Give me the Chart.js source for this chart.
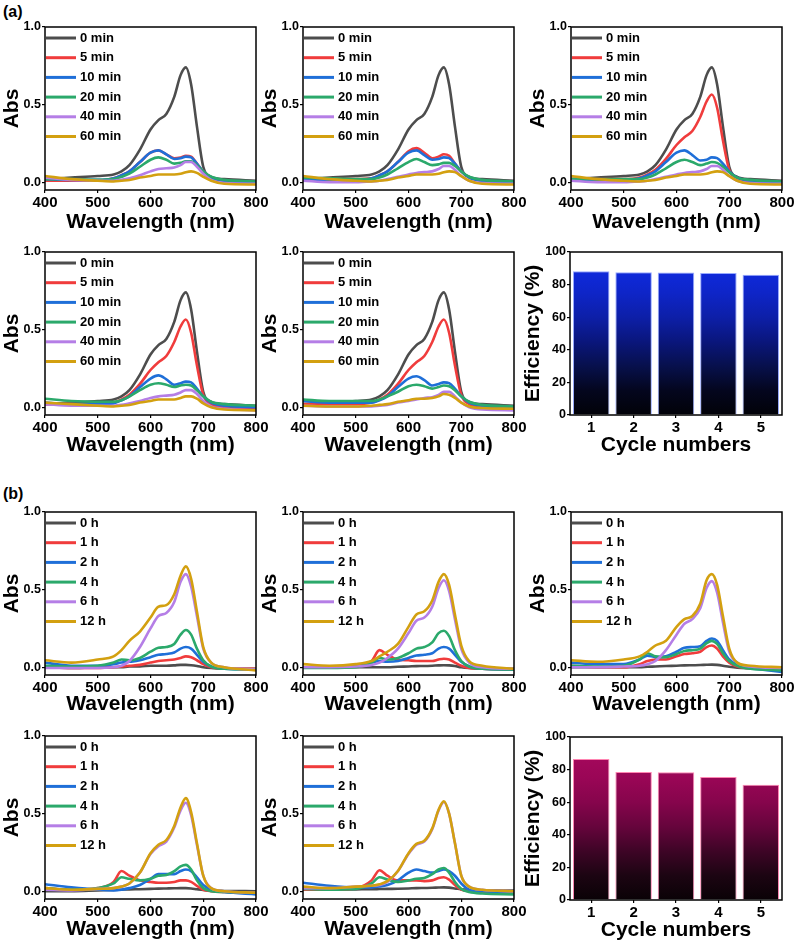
<!DOCTYPE html>
<html>
<head>
<meta charset="utf-8">
<script src="https://cdn.jsdelivr.net/npm/chart.js@4.4.1/dist/chart.umd.min.js"></script>
<style>
  body { margin: 0; background: #fff; }
  #figure { position: relative; width: 794px; height: 945px; overflow: hidden; }
  #figure canvas { position: absolute; }
  .panel-tag { position: absolute; font: bold 16px Arial, "Liberation Sans", sans-serif; line-height: 20px; }
</style>
</head>
<body>
<div id="figure">
  <div class="panel-tag" style="left:3px;top:2px">(a)</div>
  <div class="panel-tag" style="left:3px;top:484px">(b)</div>
</div>
<script>
// wavelength grid (nm) shared by every spectrum
const wavelengths = [400, 450, 500, 530, 545, 560, 580, 600, 615, 630, 645, 657, 667, 677, 688, 700, 715, 740, 800];
const minLabels = ['0 min', '5 min', '10 min', '20 min', '40 min', '60 min'];
const hourLabels = ['0 h', '1 h', '2 h', '4 h', '6 h', '12 h'];
const cycles = ['1', '2', '3', '4', '5'];
const absTicks = [0, 0.5, 1.0];

// (a) degradation spectra, 0 min is the same starting solution in each run
const a_0min   = [0.02, 0.03, 0.04, 0.05, 0.07, 0.11, 0.21, 0.34, 0.40, 0.44, 0.55, 0.69, 0.74, 0.63, 0.36, 0.10, 0.035, 0.02, 0.01];

const a1_5min  = [0.01, 0.01, 0.01, 0.025, 0.045, 0.07, 0.13, 0.19, 0.205, 0.18, 0.155, 0.16, 0.17, 0.165, 0.12, 0.07, 0.03, 0.01, 0.0];
const a1_10min = [0.02, 0.015, 0.015, 0.025, 0.045, 0.07, 0.13, 0.19, 0.205, 0.18, 0.15, 0.155, 0.165, 0.16, 0.12, 0.07, 0.03, 0.01, 0.0];
const a1_20min = [0.02, 0.02, 0.015, 0.02, 0.035, 0.055, 0.10, 0.145, 0.16, 0.145, 0.12, 0.125, 0.135, 0.135, 0.11, 0.07, 0.035, 0.015, 0.005];
const a1_40min = [0.03, 0.015, 0.01, 0.01, 0.015, 0.025, 0.045, 0.07, 0.085, 0.09, 0.095, 0.11, 0.13, 0.13, 0.10, 0.055, 0.015, -0.005, -0.01];
const a1_60min = [0.04, 0.02, 0.01, 0.005, 0.01, 0.015, 0.03, 0.04, 0.05, 0.05, 0.05, 0.055, 0.065, 0.07, 0.06, 0.035, 0.01, -0.01, -0.015];

const a2_5min  = [0.02, 0.02, 0.02, 0.025, 0.045, 0.07, 0.13, 0.20, 0.22, 0.19, 0.155, 0.165, 0.18, 0.17, 0.12, 0.07, 0.03, 0.01, 0.0];
const a2_10min = [0.02, 0.015, 0.015, 0.025, 0.045, 0.07, 0.13, 0.19, 0.205, 0.175, 0.145, 0.15, 0.16, 0.155, 0.12, 0.07, 0.03, 0.01, 0.0];
const a2_20min = [0.03, 0.025, 0.02, 0.02, 0.03, 0.05, 0.09, 0.13, 0.15, 0.13, 0.11, 0.115, 0.125, 0.125, 0.105, 0.07, 0.035, 0.015, 0.005];
const a2_40min = [0.01, 0.0, 0.0, 0.005, 0.01, 0.02, 0.035, 0.05, 0.06, 0.065, 0.07, 0.085, 0.105, 0.105, 0.08, 0.04, 0.01, -0.005, -0.01];
const a2_60min = [0.04, 0.02, 0.01, 0.005, 0.01, 0.015, 0.03, 0.04, 0.05, 0.05, 0.05, 0.055, 0.065, 0.07, 0.065, 0.04, 0.01, -0.01, -0.015];

const a3_5min  = [0.02, 0.02, 0.02, 0.03, 0.05, 0.08, 0.15, 0.24, 0.29, 0.33, 0.42, 0.52, 0.565, 0.48, 0.27, 0.08, 0.02, 0.0, -0.01];
const a3_10min = [0.02, 0.015, 0.015, 0.025, 0.045, 0.07, 0.13, 0.19, 0.205, 0.175, 0.14, 0.145, 0.16, 0.155, 0.12, 0.07, 0.03, 0.01, 0.0];
const a3_20min = [0.02, 0.02, 0.02, 0.02, 0.03, 0.05, 0.09, 0.13, 0.145, 0.13, 0.11, 0.12, 0.13, 0.125, 0.10, 0.065, 0.03, 0.015, 0.005];
const a3_40min = [0.01, 0.0, 0.0, 0.005, 0.01, 0.02, 0.035, 0.05, 0.06, 0.065, 0.07, 0.085, 0.105, 0.105, 0.08, 0.04, 0.01, -0.005, -0.01];
const a3_60min = [0.04, 0.02, 0.01, 0.005, 0.01, 0.015, 0.03, 0.04, 0.05, 0.05, 0.05, 0.055, 0.065, 0.07, 0.065, 0.04, 0.01, -0.01, -0.015];

const a4_5min  = [0.02, 0.02, 0.02, 0.03, 0.05, 0.08, 0.15, 0.24, 0.29, 0.33, 0.42, 0.52, 0.565, 0.48, 0.27, 0.08, 0.02, 0.0, -0.01];
const a4_10min = [0.03, 0.02, 0.02, 0.025, 0.045, 0.07, 0.13, 0.185, 0.205, 0.18, 0.145, 0.155, 0.165, 0.16, 0.12, 0.07, 0.03, 0.01, 0.0];
const a4_20min = [0.055, 0.04, 0.035, 0.035, 0.045, 0.07, 0.11, 0.145, 0.155, 0.145, 0.13, 0.14, 0.145, 0.14, 0.11, 0.07, 0.035, 0.02, 0.01];
const a4_40min = [0.02, 0.01, 0.01, 0.01, 0.015, 0.025, 0.04, 0.06, 0.07, 0.075, 0.08, 0.095, 0.11, 0.11, 0.085, 0.04, 0.005, -0.01, -0.02];
const a4_60min = [0.03, 0.02, 0.01, 0.005, 0.01, 0.015, 0.03, 0.04, 0.05, 0.05, 0.05, 0.06, 0.07, 0.07, 0.055, 0.025, 0.0, -0.015, -0.02];

const a5_5min  = [0.02, 0.02, 0.02, 0.03, 0.05, 0.08, 0.15, 0.24, 0.29, 0.33, 0.42, 0.52, 0.565, 0.48, 0.27, 0.08, 0.02, 0.0, -0.01];
const a5_10min = [0.04, 0.03, 0.03, 0.03, 0.045, 0.07, 0.13, 0.185, 0.20, 0.175, 0.14, 0.15, 0.16, 0.155, 0.12, 0.07, 0.03, 0.01, 0.0];
const a5_20min = [0.05, 0.04, 0.04, 0.04, 0.05, 0.07, 0.10, 0.135, 0.145, 0.135, 0.12, 0.13, 0.14, 0.135, 0.11, 0.07, 0.035, 0.015, 0.005];
const a5_40min = [0.01, 0.005, 0.005, 0.005, 0.01, 0.015, 0.03, 0.04, 0.05, 0.06, 0.065, 0.08, 0.10, 0.10, 0.07, 0.03, 0.0, -0.015, -0.02];
const a5_60min = [0.01, 0.005, 0.005, 0.01, 0.015, 0.02, 0.035, 0.045, 0.055, 0.055, 0.06, 0.07, 0.085, 0.08, 0.06, 0.03, 0.005, -0.005, -0.01];

// (b) release spectra
const b1_0h  = [0.0, -0.005, 0.0, 0.0, 0.0, 0.005, 0.005, 0.01, 0.01, 0.01, 0.012, 0.015, 0.015, 0.013, 0.008, 0.0, -0.005, -0.008, -0.01];
const b1_1h  = [0.0, -0.005, -0.005, 0.0, 0.005, 0.01, 0.015, 0.03, 0.04, 0.045, 0.05, 0.06, 0.07, 0.065, 0.045, 0.02, 0.0, -0.01, -0.01];
const b1_2h  = [0.03, 0.01, 0.01, 0.02, 0.03, 0.035, 0.045, 0.065, 0.08, 0.085, 0.095, 0.12, 0.13, 0.12, 0.08, 0.035, 0.005, -0.01, -0.015];
const b1_4h  = [0.01, 0.005, 0.01, 0.03, 0.05, 0.045, 0.06, 0.10, 0.125, 0.13, 0.15, 0.21, 0.24, 0.21, 0.12, 0.045, 0.005, -0.01, -0.015];
const b1_6h  = [-0.005, -0.005, -0.005, 0.0, 0.01, 0.04, 0.13, 0.25, 0.33, 0.35, 0.42, 0.55, 0.60, 0.52, 0.33, 0.12, 0.03, 0.0, -0.015];
const b1_12h = [0.045, 0.03, 0.05, 0.07, 0.11, 0.17, 0.23, 0.32, 0.39, 0.40, 0.47, 0.59, 0.65, 0.57, 0.36, 0.13, 0.03, 0.0, -0.02];

const b2_0h  = [0.0, 0.0, 0.0, 0.0, 0.0, 0.0, 0.003, 0.005, 0.007, 0.008, 0.01, 0.012, 0.013, 0.012, 0.008, 0.0, -0.005, -0.008, -0.01];
const b2_1h  = [0.0, 0.0, 0.01, 0.04, 0.11, 0.08, 0.05, 0.045, 0.04, 0.04, 0.04, 0.05, 0.055, 0.05, 0.03, 0.01, -0.005, -0.01, -0.015];
const b2_2h  = [0.0, 0.0, 0.01, 0.03, 0.04, 0.035, 0.04, 0.06, 0.075, 0.08, 0.09, 0.12, 0.13, 0.12, 0.08, 0.035, 0.005, -0.01, -0.015];
const b2_4h  = [-0.005, -0.005, 0.0, 0.03, 0.06, 0.05, 0.06, 0.09, 0.12, 0.13, 0.16, 0.22, 0.235, 0.20, 0.11, 0.04, 0.005, -0.01, -0.015];
const b2_6h  = [0.0, 0.0, 0.005, 0.015, 0.03, 0.06, 0.12, 0.22, 0.30, 0.32, 0.39, 0.51, 0.56, 0.49, 0.31, 0.12, 0.03, 0.0, -0.01];
const b2_12h = [0.02, 0.01, 0.02, 0.04, 0.07, 0.10, 0.15, 0.26, 0.34, 0.36, 0.43, 0.55, 0.60, 0.53, 0.34, 0.14, 0.04, 0.01, -0.01];

const b3_0h  = [0.0, 0.0, 0.0, 0.0, 0.003, 0.005, 0.008, 0.01, 0.012, 0.013, 0.014, 0.016, 0.017, 0.015, 0.01, 0.003, -0.003, -0.006, -0.01];
const b3_1h  = [0.01, 0.0, 0.0, 0.02, 0.04, 0.05, 0.05, 0.07, 0.085, 0.09, 0.10, 0.13, 0.14, 0.12, 0.07, 0.03, 0.005, -0.005, -0.01];
const b3_2h  = [0.03, 0.02, 0.02, 0.05, 0.075, 0.065, 0.07, 0.10, 0.125, 0.13, 0.135, 0.17, 0.185, 0.17, 0.11, 0.05, 0.015, -0.005, -0.03];
const b3_4h  = [0.01, 0.005, 0.01, 0.05, 0.09, 0.07, 0.065, 0.085, 0.105, 0.11, 0.12, 0.155, 0.17, 0.15, 0.09, 0.04, 0.01, -0.01, -0.02];
const b3_6h  = [0.0, 0.0, 0.005, 0.01, 0.02, 0.04, 0.11, 0.21, 0.28, 0.31, 0.38, 0.51, 0.555, 0.48, 0.29, 0.10, 0.03, 0.005, -0.005];
const b3_12h = [0.045, 0.035, 0.05, 0.07, 0.10, 0.14, 0.17, 0.26, 0.31, 0.33, 0.41, 0.56, 0.60, 0.53, 0.33, 0.12, 0.03, 0.01, 0.0];

const b4_0h  = [0.0, 0.0, 0.005, 0.008, 0.01, 0.012, 0.013, 0.015, 0.017, 0.018, 0.019, 0.02, 0.02, 0.018, 0.013, 0.008, 0.004, 0.002, 0.0];
const b4_1h  = [0.02, 0.01, 0.02, 0.06, 0.13, 0.10, 0.07, 0.06, 0.055, 0.055, 0.06, 0.07, 0.07, 0.06, 0.035, 0.01, 0.0, -0.005, -0.01];
const b4_2h  = [0.045, 0.025, 0.01, 0.005, 0.01, 0.02, 0.04, 0.08, 0.11, 0.11, 0.11, 0.13, 0.14, 0.13, 0.09, 0.04, 0.01, -0.005, -0.02];
const b4_4h  = [0.02, 0.01, 0.02, 0.05, 0.09, 0.08, 0.07, 0.08, 0.10, 0.105, 0.13, 0.16, 0.17, 0.14, 0.07, 0.02, 0.0, -0.005, -0.01];
const b4_6h  = [0.01, 0.005, 0.015, 0.02, 0.03, 0.05, 0.12, 0.24, 0.29, 0.32, 0.41, 0.52, 0.57, 0.49, 0.30, 0.10, 0.02, 0.0, -0.01];
const b4_12h = [0.02, 0.01, 0.015, 0.02, 0.03, 0.05, 0.12, 0.245, 0.30, 0.33, 0.42, 0.54, 0.60, 0.51, 0.31, 0.10, 0.02, 0.0, -0.01];

const b5_0h  = [0.01, 0.01, 0.012, 0.013, 0.014, 0.015, 0.016, 0.018, 0.02, 0.021, 0.022, 0.024, 0.025, 0.023, 0.018, 0.012, 0.008, 0.006, 0.005];
const b5_1h  = [0.01, 0.01, 0.02, 0.07, 0.135, 0.10, 0.07, 0.07, 0.07, 0.065, 0.07, 0.085, 0.09, 0.075, 0.04, 0.01, 0.0, -0.005, -0.01];
const b5_2h  = [0.055, 0.035, 0.025, 0.025, 0.03, 0.04, 0.07, 0.12, 0.14, 0.13, 0.12, 0.13, 0.14, 0.13, 0.10, 0.05, 0.01, 0.0, -0.01];
const b5_4h  = [0.015, 0.01, 0.015, 0.05, 0.09, 0.075, 0.06, 0.07, 0.08, 0.085, 0.11, 0.14, 0.15, 0.12, 0.06, 0.015, -0.005, -0.015, -0.02];
const b5_6h  = [0.02, 0.02, 0.03, 0.035, 0.04, 0.06, 0.13, 0.24, 0.30, 0.32, 0.40, 0.52, 0.575, 0.50, 0.31, 0.10, 0.03, 0.01, 0.0];
const b5_12h = [0.03, 0.02, 0.03, 0.035, 0.045, 0.065, 0.13, 0.245, 0.305, 0.325, 0.405, 0.525, 0.58, 0.50, 0.31, 0.10, 0.03, 0.01, 0.0];

// cycling efficiency (%)
const effA = [88.2, 87.6, 87.5, 87.1, 86.0];
const effB = [86.5, 78.6, 78.4, 75.5, 70.7];

const lineColors = ['#4d4d4d', '#f03c3c', '#1f6fd8', '#2ba96b', '#b57ee6', '#d3a010'];
const FONT = 'Arial, "Liberation Sans", sans-serif';

const colLeft = [45, 303, 571];
const rowTop = [27, 252, 512, 736];
const rowAxisH = [45, 43, 42, 43];
const PLOT_W = 211, PLOT_H = 163;

const framePlugin = {
  id: 'frame',
  afterDatasetsDraw(chart) {
    const { ctx, chartArea: a } = chart;
    ctx.save();
    ctx.strokeStyle = '#000';
    ctx.lineWidth = 1.5;
    ctx.strokeRect(a.left, a.top, a.right - a.left, a.bottom - a.top);
    ctx.restore();
  }
};

const insideLegend = {
  id: 'insideLegend',
  afterDraw(chart) {
    const { ctx, chartArea: a } = chart;
    ctx.save();
    ctx.font = 'bold 13px ' + FONT;
    ctx.textBaseline = 'middle';
    chart.data.datasets.forEach((ds, i) => {
      const y = a.top + 11 + i * 19.7;
      ctx.strokeStyle = ds.borderColor;
      ctx.lineWidth = 3;
      ctx.beginPath();
      ctx.moveTo(a.left + 1, y);
      ctx.lineTo(a.left + 31, y);
      ctx.stroke();
      ctx.fillStyle = '#000';
      ctx.fillText(ds.label, a.left + 35, y);
    });
    ctx.restore();
  }
};

function addCanvas(left, top, width, height) {
  const c = document.createElement('canvas');
  c.width = width;
  c.height = height;
  c.style.left = left + 'px';
  c.style.top = top + 'px';
  document.getElementById('figure').appendChild(c);
  return c;
}

const fixHeight = h => s => { s.height = h; s.paddingLeft = 0; s.paddingRight = 0; };
const fixWidth = w => s => { s.width = w; s.paddingTop = 0; s.paddingBottom = 0; };

function axisStyle(tickSize, extraTicks) {
  return {
    ticks: Object.assign({ color: '#000', font: { family: FONT, weight: 'bold', size: tickSize }, padding: 1, autoSkip: false, maxRotation: 0 }, extraTicks || {}),
    grid: { drawOnChartArea: false, tickLength: 3, color: '#000', lineWidth: 1.2 },
    border: { display: false }
  };
}

function titleOpt(text) {
  return { display: true, text: text, color: '#000', font: { family: FONT, weight: 'bold', size: 21 }, padding: 0 };
}

function spectrum(col, row, labels, series) {
  const axisH = rowAxisH[row];
  const canvas = addCanvas(colLeft[col] - 45, rowTop[row] - 8, 45 + PLOT_W + 16, 8 + PLOT_H + axisH);
  new Chart(canvas, {
    type: 'line',
    data: {
      datasets: series.map((vals, i) => ({
        label: labels[i],
        data: vals.map((v, k) => ({ x: wavelengths[k], y: v })),
        borderColor: lineColors[i],
        borderWidth: 2.6,
        pointRadius: 0,
        cubicInterpolationMode: 'monotone',
        order: -i
      }))
    },
    options: {
      responsive: false,
      animation: false,
      devicePixelRatio: 1,
      layout: { padding: { top: 8, right: 16, left: 0, bottom: 0 } },
      plugins: { legend: { display: false }, tooltip: { enabled: false } },
      scales: {
        x: Object.assign(axisStyle(15, { stepSize: 100 }), {
          type: 'linear', min: 400, max: 800,
          title: titleOpt('Wavelength (nm)'),
          afterFit: fixHeight(axisH)
        }),
        y: Object.assign(axisStyle(12.5, { callback: v => Number(v).toFixed(1) }), {
          min: -0.05, max: 1.0,
          afterBuildTicks: s => { s.ticks = absTicks.map(v => ({ value: v })); },
          title: titleOpt('Abs'),
          afterFit: fixWidth(45)
        })
      }
    },
    plugins: [framePlugin, insideLegend]
  });
}

function barGradient(stops) {
  return ctx => {
    const area = ctx.chart.chartArea;
    if (!area) return stops[stops.length - 1][1];
    const g = ctx.chart.ctx.createLinearGradient(0, area.bottom, 0, area.top);
    stops.forEach(([p, c]) => g.addColorStop(p, c));
    return g;
  };
}

function efficiency(row, values, stops, edge) {
  const axisH = rowAxisH[row];
  const top = row === 1 ? 252 : 737;
  const canvas = addCanvas(570 - 49, top - 8, 49 + 212 + 8, 8 + PLOT_H + axisH);
  const xs = axisStyle(15);
  xs.grid.offset = false;
  new Chart(canvas, {
    type: 'bar',
    data: {
      labels: cycles,
      datasets: [{
        data: values,
        backgroundColor: barGradient(stops),
        borderColor: edge,
        borderWidth: 1,
        barPercentage: 0.86,
        categoryPercentage: 1.0
      }]
    },
    options: {
      responsive: false,
      animation: false,
      devicePixelRatio: 1,
      layout: { padding: { top: 8, right: 8, left: 0, bottom: 0 } },
      plugins: { legend: { display: false }, tooltip: { enabled: false } },
      scales: {
        x: Object.assign(xs, { title: titleOpt('Cycle numbers'), afterFit: fixHeight(axisH) }),
        y: Object.assign(axisStyle(12.5, { stepSize: 20 }), {
          min: 0, max: 100,
          title: titleOpt('Efficiency (%)'),
          afterFit: fixWidth(49)
        })
      }
    },
    plugins: [framePlugin]
  });
}

spectrum(0, 0, minLabels, [a_0min, a1_5min, a1_10min, a1_20min, a1_40min, a1_60min]);
spectrum(1, 0, minLabels, [a_0min, a2_5min, a2_10min, a2_20min, a2_40min, a2_60min]);
spectrum(2, 0, minLabels, [a_0min, a3_5min, a3_10min, a3_20min, a3_40min, a3_60min]);
spectrum(0, 1, minLabels, [a_0min, a4_5min, a4_10min, a4_20min, a4_40min, a4_60min]);
spectrum(1, 1, minLabels, [a_0min, a5_5min, a5_10min, a5_20min, a5_40min, a5_60min]);
efficiency(1, effA,
  [[0, '#020208'], [0.15, '#04061e'], [0.3, '#07104c'], [0.45, '#0a167c'], [0.6, '#0d1fa8'], [0.75, '#0e25c8'], [0.9, '#0f2ade']],
  'rgba(140,160,255,0.9)');

spectrum(0, 2, hourLabels, [b1_0h, b1_1h, b1_2h, b1_4h, b1_6h, b1_12h]);
spectrum(1, 2, hourLabels, [b2_0h, b2_1h, b2_2h, b2_4h, b2_6h, b2_12h]);
spectrum(2, 2, hourLabels, [b3_0h, b3_1h, b3_2h, b3_4h, b3_6h, b3_12h]);
spectrum(0, 3, hourLabels, [b4_0h, b4_1h, b4_2h, b4_4h, b4_6h, b4_12h]);
spectrum(1, 3, hourLabels, [b5_0h, b5_1h, b5_2h, b5_4h, b5_6h, b5_12h]);
efficiency(3, effB,
  [[0, '#0a0206'], [0.15, '#1c0512'], [0.3, '#3e0526'], [0.45, '#66053c'], [0.6, '#86054c'], [0.75, '#9a0656'], [0.88, '#a4085c']],
  'rgba(255,120,170,0.9)');
</script>
</body>
</html>
